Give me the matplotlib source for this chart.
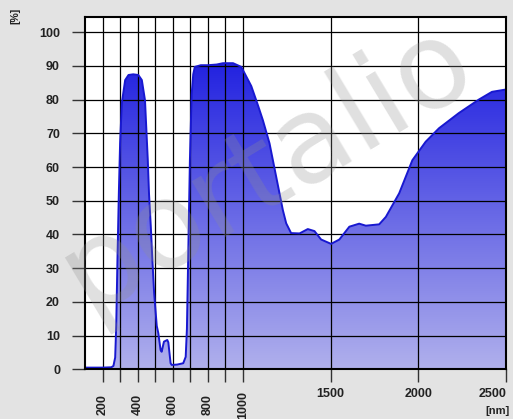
#!/usr/bin/env python3
"""
Transmission curve with gradient fill
"""

import numpy as np
import matplotlib.pyplot as plt
from matplotlib.colors import LinearSegmentedColormap

plt.rcParams['font.family'] = ['Liberation Sans', 'DejaVu Sans']

# wavelength [nm] and transmission [%]
wavelength = [100, 200, 250, 262, 272, 278, 285, 293, 300, 310, 329, 348, 375, 404,
              424, 442, 458, 465, 475, 484, 494, 509, 518, 531, 537, 550, 569, 575,
              588, 594, 625, 660, 674, 681, 688, 698, 708, 717, 726, 760, 800, 850,
              887, 944, 991, 1020, 1048, 1086, 1114, 1152, 1190, 1228, 1247, 1275,
              1323, 1370, 1408, 1446, 1503, 1550, 1607, 1663, 1701, 1777, 1815, 1891,
              1966, 2042, 2118, 2231, 2345, 2420, 2500]
transmission = [0.5, 0.5, 0.6, 1.0, 3.5, 12.9, 32.6, 52.4, 67, 79, 85.8, 87.3, 87.5, 87.3,
                85.8, 79.8, 62, 52, 42.5, 32.6, 22.7, 12.9, 10.7, 5.7, 5.2, 8.2, 8.7, 8.0,
                1.8, 1.3, 1.4, 1.8, 3.7, 12, 32.4, 62, 81.6, 87.5, 89.7, 90.2, 90.2, 90.4,
                90.8, 90.8, 89.7, 86.8, 84, 78.3, 73.9, 67, 57.1, 47.2, 43.3, 40.4,
                40.3, 41.6, 41, 38.5, 37.2, 38.5, 42.3, 43.2, 42.6, 43, 45.2, 52.2,
                62, 67.5, 71.5, 76, 80, 82.3, 83]

y_ticks = [0, 10, 20, 30, 40, 50, 60, 70, 80, 90, 100]
minor_ticks = [200, 300, 400, 500, 600, 700, 800, 900, 1000]
minor_labels = ['200', '', '400', '', '600', '', '800', '', '1000']
major_ticks = [1500, 2000, 2500]
major_labels = ['1500', '2000', '2500']

fig = plt.figure(figsize=(5.13, 4.19), dpi=100, facecolor='#e3e3e3')
ax = fig.add_axes([85 / 513, 49.7 / 419, 421 / 513, 352.3 / 419])

# gradient fill clipped by the area under the curve
poly = ax.fill_between(wavelength, transmission, 0, facecolor='none', edgecolor='none')
cmap = LinearSegmentedColormap.from_list('fill', ['#b0b0ec', '#2020e0'])
grad = np.linspace(0, 1, 256).reshape(-1, 1)
img = ax.imshow(grad, cmap=cmap, extent=[100, 2500, 0, 92], origin='lower',
                aspect='auto', zorder=1, interpolation='bilinear')
img.set_clip_path(poly.get_paths()[0], ax.transData)

ax.plot(wavelength, transmission, color='#1818d0', linewidth=1.4, zorder=3)

ax.set_xlim(100, 2500)
ax.set_ylim(0, 104.5)

ax.set_yticks(y_ticks)
ax.set_yticklabels([str(v) for v in y_ticks], fontsize=9, fontweight='bold', color='#222222')
ax.set_xticks(major_ticks, major_labels, fontsize=9, fontweight='bold', color='#222222')
ax.set_xticks(minor_ticks, minor_labels, minor=True, fontsize=9, fontweight='bold',
              color='#222222', rotation=90, va='center')
ax.get_xticklabels()[-1].set_ha('right')

ax.tick_params(axis='y', length=9.4, width=1, color='#333333', pad=8.6)
ax.tick_params(axis='x', which='major', length=9.4, width=1, color='#333333', pad=4.3)
ax.tick_params(axis='x', which='minor', length=9.4, width=1, color='#333333', pad=16)

ax.set_axisbelow(False)
ax.grid(True, which='both', color='black', linewidth=0.9, zorder=2)
for sp in ax.spines.values():
    sp.set_linewidth(1.5)
    sp.set_zorder(4)

fig.text(15 / 513, 1 - 16 / 419, '[%]', rotation=90, fontsize=7.5, fontweight='bold',
         ha='center', va='center', color='#222222')
fig.text(498 / 513, 1 - 411 / 419, '[nm]', fontsize=8, fontweight='bold',
         ha='center', va='center', color='#222222')

# watermark
fig.text(0.52, 0.6, 'portalio', rotation=31, fontsize=86, color='#909090', alpha=0.28,
         ha='center', va='center', family='DejaVu Sans', zorder=10)

fig.savefig('out.png', dpi=100, facecolor=fig.get_facecolor())
